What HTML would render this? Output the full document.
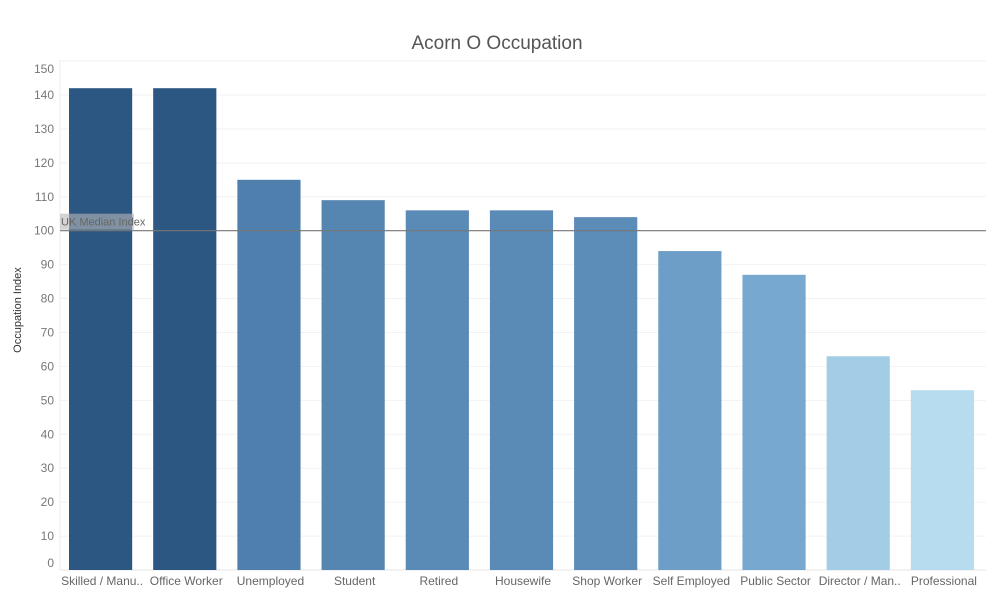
<!DOCTYPE html>
<html><head><meta charset="utf-8"><style>
body{margin:0;background:#fff;font-family:"Liberation Sans",sans-serif}
svg text{font-family:"Liberation Sans",sans-serif}
</style></head><body>
<svg id="chart" width="1007" height="604">
<text x="497" y="49" text-anchor="middle" font-size="19" fill="#555">Acorn O Occupation</text>
<text transform="translate(21,310) rotate(-90)" text-anchor="middle" font-size="11" fill="#333">Occupation Index</text>
<g id="grid"></g><g id="bars"></g><g id="ref"></g><g id="xl"></g><g id="yl"></g>
</svg>
<script>
const categories=["Skilled / Manu..","Office Worker","Unemployed","Student","Retired","Housewife","Shop Worker","Self Employed","Public Sector","Director / Man..","Professional"];
const values=[142,142,115,109,106,106,104,94,87,63,53];
const colors=["#2c5783","#2c5783","#4e7fad","#5586b2","#5a8ab6","#5a8ab6","#5c8cb8","#6c9ec7","#77a9d0","#a3cde6","#b8dcef"];
const yTicks=[0,10,20,30,40,50,60,70,80,90,100,110,120,130,140,150];
const median=100;
const ns="http://www.w3.org/2000/svg";
const L=60,R=986,Y0=570,K=3.393;
const y=v=>Y0-v*K;
const yMax=yTicks[yTicks.length-1];
const yLab=v=>{let c=y(v); if(v===0)c-=7; if(v===yMax)c+=8; return c;};
const band=(R-L)/categories.length;
const x=i=>L+band*i;
function mk(t,a,p){const e=document.createElementNS(ns,t);for(const k in a)e.setAttribute(k,a[k]);p.appendChild(e);return e;}
const G=document.getElementById('grid'),B=document.getElementById('bars'),RF=document.getElementById('ref'),XL=document.getElementById('xl'),YL=document.getElementById('yl');
mk('line',{x1:L,x2:L,y1:60,y2:Y0,stroke:'#eee'},G);
yTicks.forEach(t=>{
 const g=mk('line',{x1:L,x2:R,y1:y(t),y2:y(t),stroke:'#f2f2f2'},G);
 
 
 const tx=mk('text',{x:54,y:yLab(t)+4,'text-anchor':'end','font-size':12,fill:'#777'},YL);
 tx.textContent=t;
 
 
});
mk('line',{x1:L,x2:R,y1:Y0,y2:Y0,stroke:'#e6e6e6'},G);
categories.forEach((c,i)=>{
 const r=mk('rect',{x:x(i)+9,y:y(values[i]),width:band-21,height:Y0-y(values[i]),fill:colors[i]},B);
 
 
 const t=mk('text',{x:x(i)+band/2,y:585,'text-anchor':'middle','font-size':12,fill:'#666'},XL);
 t.textContent=c;
 
 
});
const bg=mk('rect',{x:L,y:y(median)-17,width:74,height:16,fill:'#b8b8b8','fill-opacity':0.6},RF);


const ml=mk('line',{x1:L,x2:R,y1:y(median),y2:y(median),stroke:'#777','stroke-width':1.2},RF);


const mt=mk('text',{x:L+1,y:y(median)-5,'font-size':11,fill:'#666'},RF);
mt.textContent='UK Median Index';


</script>
</body></html>
